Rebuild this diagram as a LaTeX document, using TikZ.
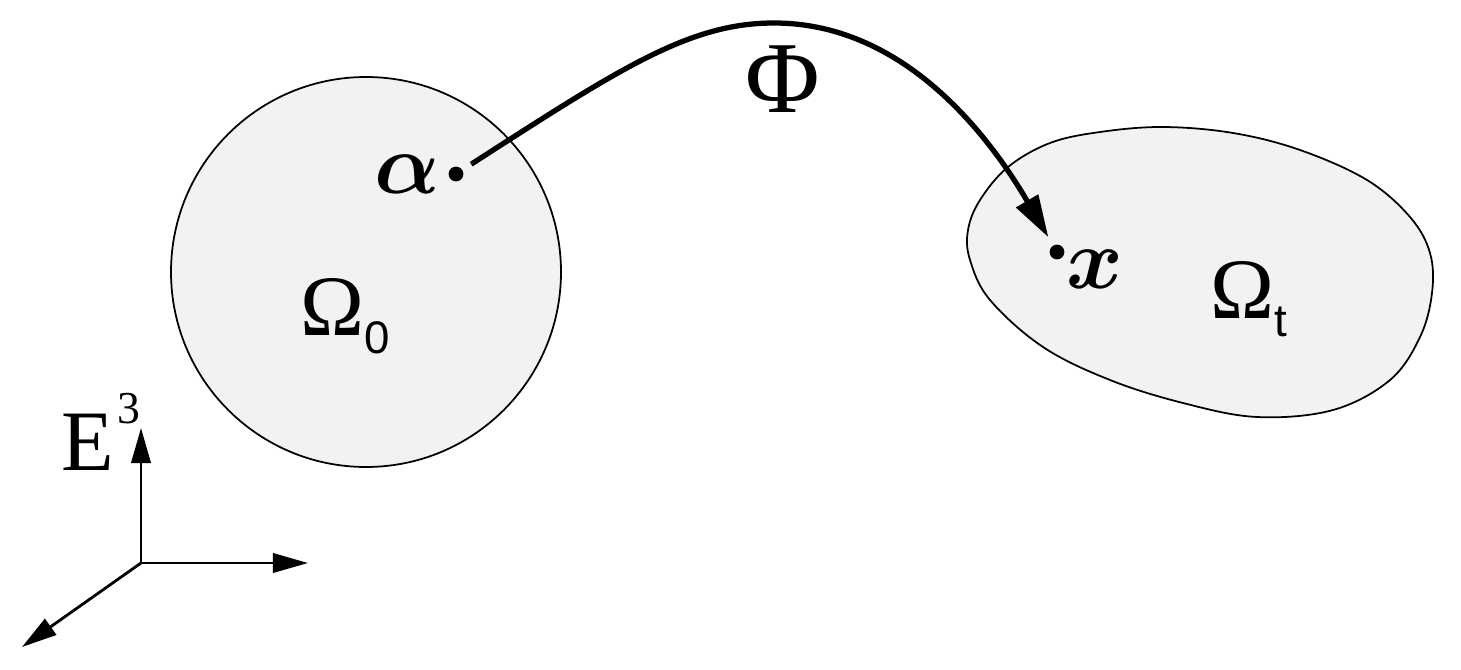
\documentclass[tikz,border=0pt]{standalone}
\usepackage{fix-cm}
\usepackage{amsmath}
\usepackage{fontspec}
\setmainfont{Liberation Serif}
\setsansfont{Liberation Sans}
\usepackage{tikz}
\usetikzlibrary{positioning, arrows.meta, calc}
\newcommand{\sub}[1]{\raisebox{-5.3pt}{\fontsize{13}{15}\selectfont\sffamily #1}}

\begin{document}
\begin{tikzpicture}[x=1cm, y=1cm, >={Triangle[length=10pt, width=5.5pt]}, font=\fontsize{24.5}{28}\selectfont,
	region/.style={draw, line width=0.5pt, fill=black!5},
	dot/.style={circle, fill, inner sep=0pt, minimum size=4.2pt},
	axis/.style={->, line width=0.8pt}]
	\useasboundingbox (0,0) rectangle (14.61,6.69);
	% the two configurations
	\draw[region] (3.66,3.97) circle (1.95);
	\draw[region] plot[smooth cycle, tension=0.6] coordinates {(10.08,5.02) (10.50,5.26) (11.00,5.37) (11.63,5.42) (12.33,5.36) (13.00,5.19) (13.67,4.89) (14.10,4.52) (14.30,4.16) (14.32,3.76) (14.20,3.32) (13.90,2.89) (13.33,2.59) (12.57,2.52) (11.83,2.66) (11.10,2.89) (10.43,3.22) (9.90,3.69) (9.70,4.09) (9.68,4.39) (9.80,4.69)};
	\node[anchor=base west, inner sep=0pt] (O0) at (3.00,3.34) {Ω\sub{0}};
	\node[anchor=base west, inner sep=0pt] (Ot) at (12.10,3.51) {Ω\sub{t}};
	% points and the map
	\node[dot] (alpha) at (4.56,4.95) {};
	\node[dot] (xpt) at (10.57,4.17) {};
	\node[anchor=base, inner sep=0pt] (al) at (4.07,4.76) {$\boldsymbol{\alpha}$};
	\node[anchor=base, inner sep=0pt] (xl) at (10.95,3.81) {$\boldsymbol{x}$};
	\coordinate (top) at (7.74,6.46);
	\draw[-{Triangle[length=12pt, width=7pt]}, line width=1.5pt, shorten <=0.1cm, shorten >=0.09cm]
		(alpha) .. controls (6.22,6.02) and (6.9,6.46) .. (top)
		.. controls (9.0,6.46) and (9.85,5.4) .. (xpt);
	\node[anchor=base, inner sep=0pt, font=\fontsize{29}{32}\selectfont] (Phi) at (7.83,5.57) {Φ};
	% axes
	\coordinate (o) at (1.41,1.06);
	\coordinate (e1) at (3.08,1.06);
	\coordinate (e2) at (1.41,2.41);
	\coordinate (e3) at (0.22,0.22);
	\draw[axis] (o) -- (e1);
	\draw[axis] (o) -- (e2);
	\draw[axis] (o) -- (e3);
	\node[anchor=base west, inner sep=0pt] (E3) at (0.61,1.99) {E\hspace{1pt}\raisebox{13.3pt}{\fontsize{13}{15}\selectfont 3}};
\end{tikzpicture}
\end{document}
